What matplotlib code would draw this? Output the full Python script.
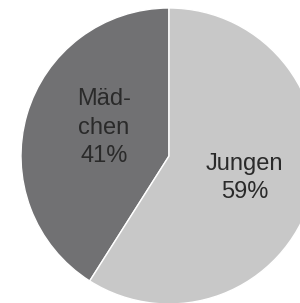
import matplotlib.pyplot as plt

labels = ['Mäd-\nchen', 'Jungen']
shares = [41, 59]
colors = ['#717173', '#c8c8c8']

fig = plt.figure(figsize=(3.0, 3.03), dpi=100)
ax = fig.add_axes([0, 0, 1, 1])

wedges, texts = ax.pie(shares, colors=colors, startangle=90, counterclock=True,
                       labels=[f'{l}\n{s}%' for l, s in zip(labels, shares)],
                       labeldistance=0.5,
                       wedgeprops=dict(edgecolor='white', linewidth=1),
                       textprops=dict(fontsize=17, color='#2a2a2a', family='Liberation Sans',
                                      linespacing=1.38))
for t in texts:
    t.set_ha('center')
    t.set_va('center')

# small nudges so the labels sit where the original has them
mx, my = texts[0].get_position()
texts[0].set_position((mx + 0.04, my + 0.05))
jx, jy = texts[1].get_position()
texts[1].set_position((jx + 0.03, jy - 0.01))

# pie is slightly larger than the canvas, clipped at right/bottom
ax.set_aspect('auto')
ax.set_xlim(-169 / 148, 131 / 148)
ax.set_ylim(-147 / 148, 156 / 148)
ax.axis('off')

fig.savefig('out.png', dpi=100)
